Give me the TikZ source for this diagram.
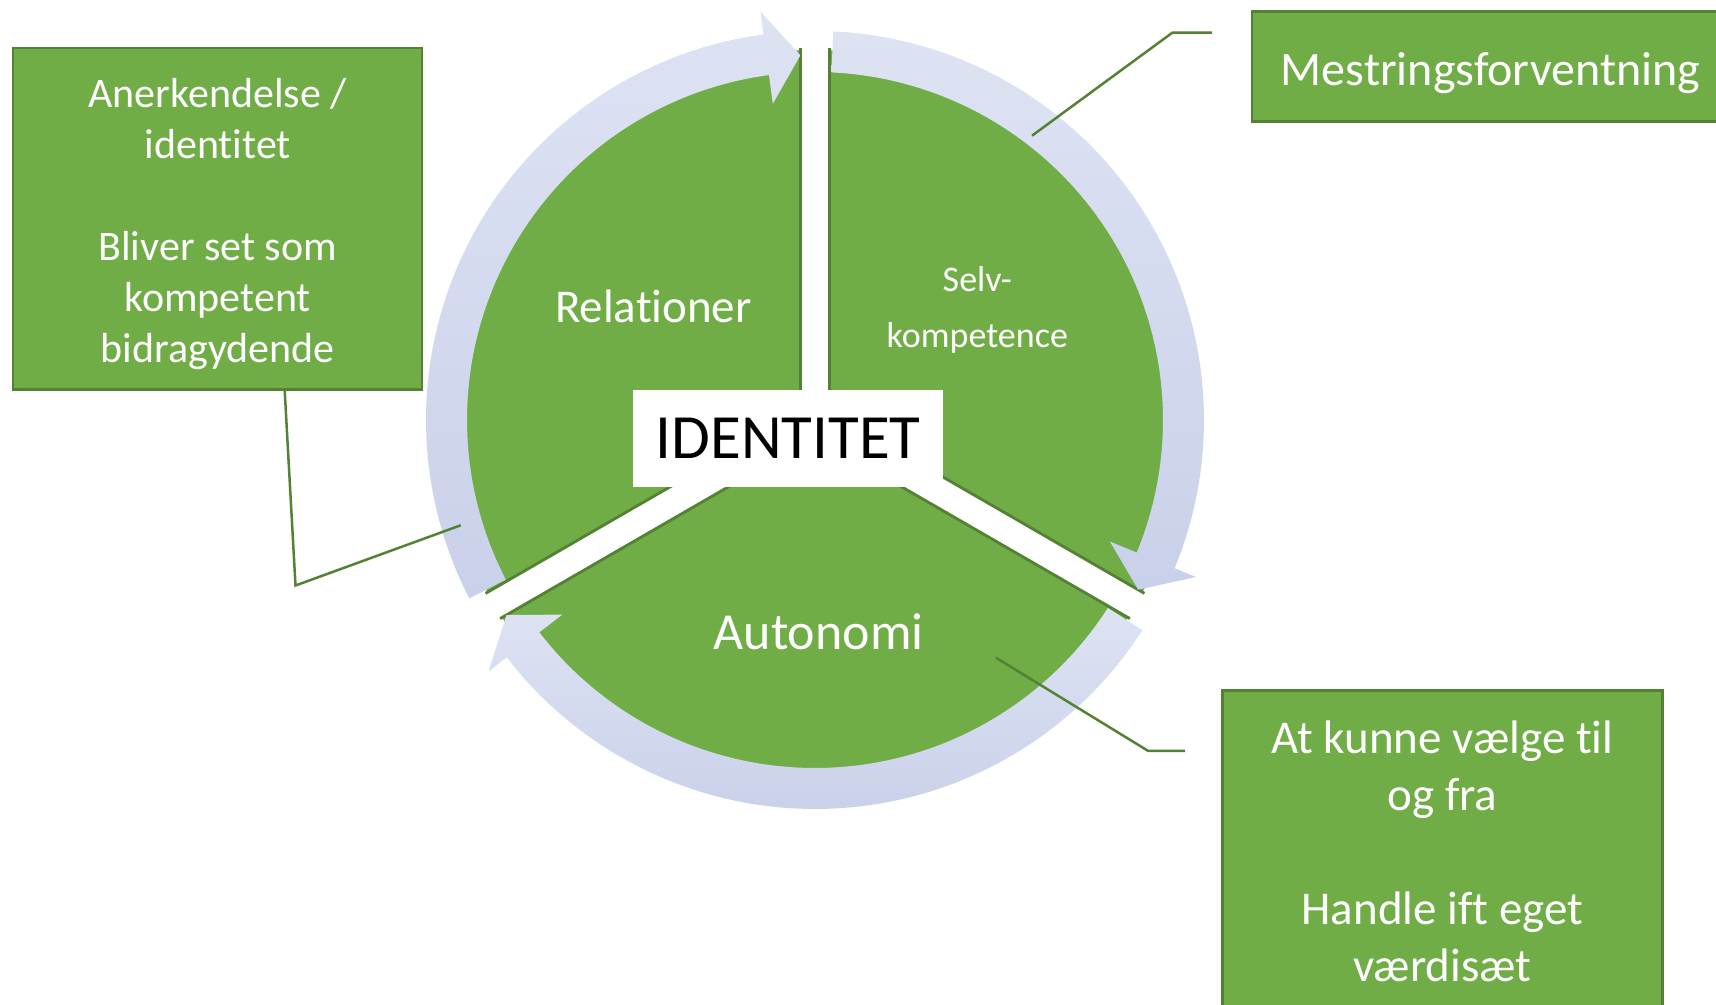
\documentclass[tikz,border=0pt]{standalone}
\usepackage{fontspec}
\setmainfont{Carlito}[Ligatures=CommonOff]
\usetikzlibrary{calc}
\definecolor{segGreen}{RGB}{112,173,71}
\definecolor{segDark}{RGB}{84,130,53}
\definecolor{ringTop}{RGB}{222,227,243}
\definecolor{ringBottom}{RGB}{201,209,234}
\begin{document}
\begin{tikzpicture}[
			x=1pt, y=1pt,
			greenbox/.style={draw=segDark, line width=2.5pt, fill=segGreen, text=white, align=center, inner sep=0pt},
			seglabel/.style={text=white, align=center, inner sep=0pt},
			callout/.style={draw=segDark, line width=2.5pt},
			ringarrow/.style={top color=ringTop, bottom color=ringBottom, draw=none}
		]
		\clip (0,0) rectangle (1716,1004);
		\coordinate (C) at (815,584);
		\fill[segGreen] (C) circle[radius=370];
		\foreach \g in {90,210,330}
			\draw[segDark, line width=32pt] (C) -- ++(\g:372);
		\foreach \g in {90,210,330}
			\draw[white, line width=26pt] (C) -- ++(\g:380);
		\foreach \g in {90,-30,-150}
			\path[ringarrow] ($(C)+({\g+117.3}:389)$) arc[start angle=\g+117.3, end angle=\g+7.6, radius=389]
				-- ($(C)+({\g+7.6}:412)$) -- ($(C)+({\g+2.3}:365)$) -- ($(C)+({\g+7.6}:319)$)
				-- ($(C)+({\g+7.6}:348)$) arc[start angle=\g+7.6, end angle=\g+117.3, radius=348] -- cycle;
		\node[fill=white, minimum width=310pt, minimum height=97pt, inner sep=0pt, font=\fontsize{63}{76}\selectfont] (ident) at (788.3,565.7) {IDENTITET};
		\node[seglabel, font=\fontsize{47}{57}\selectfont] (rel) at (653.4,697.6) {Relationer};
		\node[seglabel, font=\fontsize{36}{56}\selectfont] (selv) at (977.3,693.7) {Selv-\\kompetence};
		\node[seglabel, font=\fontsize{52}{63}\selectfont] (auto) at (818.6,372.5) {Autonomi};
		\node[greenbox, minimum width=409pt, minimum height=341.4pt, font=\fontsize{42}{51}\selectfont] (anerk) at (217.7,785.1)
			{\rule{0pt}{38.6pt}Anerkendelse /\\identitet\\[51pt]Bliver set som\\kompetent\\bidragydende};
		\node[greenbox, minimum width=477pt, minimum height=110pt, font=\fontsize{48}{58}\selectfont] (mest) at (1490.5,937.3) {\rule{0pt}{45pt}Mestringsforventning};
		\node[greenbox, minimum width=440pt, minimum height=321.4pt, font=\fontsize{47}{57}\selectfont] (valg) at (1442.4,152.6)
			{At kunne vælge til\\og fra\\[57pt]Handle ift eget\\værdisæt};
		\coordinate (mestEnd) at (1032,868.3);
		\coordinate (anerkEnd) at (460.7,478.7);
		\coordinate (valgEnd) at (995.9,346.3);
		\draw[callout] ([xshift=-39pt, yshift=34pt]mest.west) -- ++(-39.4,0) -- (mestEnd);
		\draw[callout] ([xshift=67pt]anerk.south) -- (295.5,418.5) -- (anerkEnd);
		\draw[callout] ([xshift=-36pt, yshift=100.6pt]valg.west) -- ++(-37.2,0) -- (valgEnd);
	\end{tikzpicture}
\end{document}
